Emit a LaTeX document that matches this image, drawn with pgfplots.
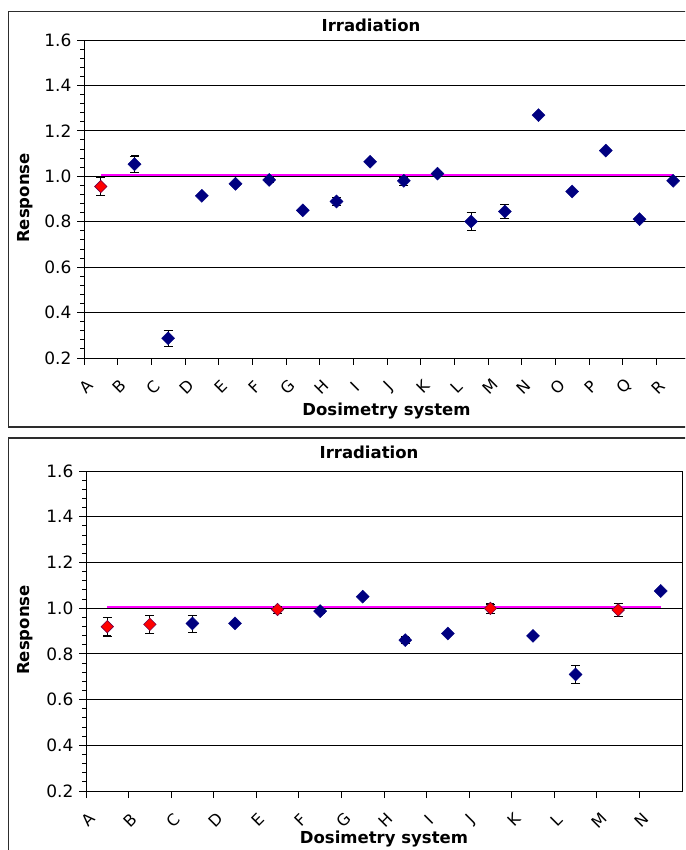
\documentclass[border=0pt]{standalone}
\usepackage{pgfplots}
\pgfplotsset{compat=1.18}
\usepackage{fontspec}
\setmainfont{DejaVu Sans}
\definecolor{navyd}{RGB}{0,0,128}
\definecolor{magl}{RGB}{255,0,255}
\definecolor{bord}{RGB}{45,45,45}
\pgfplotsset{
  resp/.style={
    scale only axis,
    anchor=south west,
    ymin=0.2, ymax=1.6,
    ytick={0.2,0.4,0.6,0.8,1.0,1.2,1.4,1.6},
    minor y tick num=4,
    ymajorgrids,
    tick pos=left,
    major grid style={black, line width=0.9pt},
    axis line style={black, line width=0.9pt},
    every tick/.style={black, line width=0.9pt},
    tick align=outside,
    major tick length=7pt,
    minor tick length=4pt,
    yticklabel style={font=\fontsize{17}{20}\selectfont, xshift=-2pt,
      /pgf/number format/.cd, fixed, fixed zerofill, precision=1, assume math mode=true},
    xticklabel style={font=\fontsize{16}{19}\selectfont, anchor=center, xshift=2pt, yshift=-22pt, rotate=45},
    clip=false,
  },
  errs/.style={
    error bars/.cd, y dir=both, y explicit,
    error bar style={black, line width=0.8pt, solid}},
  caps/.style={only marks, mark=-, mark size=4pt, black,
    mark options={black, line width=0.8pt, solid}, forget plot},
  bluem/.style={only marks, mark=square*, mark size=4.6pt,
    mark options={rotate=45, fill=navyd, draw=navyd, line width=0.4pt}, errs},
  redm/.style={only marks, mark=square*, mark size=4.4pt,
    mark options={rotate=45, fill=red, draw=navyd!55!red, line width=0.6pt}, errs},
}
\begin{document}
\begin{tikzpicture}[x=1pt,y=1pt]
\useasboundingbox (0,0) rectangle (685,850);
\clip (0,0) rectangle (685,850);
% panel borders
\draw[bord, line width=1.2pt] (8.3,423) rectangle (720,838.3);
\draw[bord, line width=1.2pt] (8.3,-20) rectangle (720,412);

% ---------- top panel ----------
\begin{axis}[resp, at={(84pt,492pt)}, width=606pt, height=318pt,
  xmin=-0.5, xmax=17.5,
  xtick={-0.5,0.5,1.5,2.5,3.5,4.5,5.5,6.5,7.5,8.5,9.5,10.5,11.5,12.5,13.5,14.5,15.5,16.5},
  xticklabels={A,B,C,D,E,F,G,H,I,J,K,L,M,N,O,P,Q,R}]
\addplot[magl, line width=1.6pt, forget plot] coordinates {(0,1.006) (17,1.006)};
% error-bar caps (value +- error)
\addplot[caps] coordinates {
 (0,0.995) (0,0.915) (1,1.090) (1,1.016) (2,0.322) (2,0.252)
 (5,0.996) (5,0.972) (7,0.907) (7,0.871) (9,0.998) (9,0.962)
 (10,1.022) (10,1.002) (11,0.841) (11,0.761) (12,0.875) (12,0.815)
};
\addplot[bluem] coordinates {
 (1,1.053) +- (0,0.037)
 (2,0.287) +- (0,0.035)
 (3,0.914) +- (0,0.0)
 (4,0.967) +- (0,0.0)
 (5,0.984) +- (0,0.012)
 (6,0.850) +- (0,0.0)
 (7,0.889) +- (0,0.018)
 (8,1.064) +- (0,0.0)
 (9,0.980) +- (0,0.018)
 (10,1.012) +- (0,0.010)
 (11,0.801) +- (0,0.040)
 (12,0.845) +- (0,0.030)
 (13,1.269) +- (0,0.0)
 (14,0.933) +- (0,0.0)
 (15,1.113) +- (0,0.0)
 (16,0.811) +- (0,0.0)
 (17,0.980) +- (0,0.0)
};
\addplot[redm] coordinates {(0,0.955) +- (0,0.040)};
\end{axis}

% ---------- bottom panel ----------
\begin{axis}[resp, at={(86pt,59pt)}, width=596pt, height=320pt,
  xmin=-0.5, xmax=13.5,
  xtick={-0.5,0.5,1.5,2.5,3.5,4.5,5.5,6.5,7.5,8.5,9.5,10.5,11.5,12.5},
  xticklabels={A,B,C,D,E,F,G,H,I,J,K,L,M,N}]
\addplot[magl, line width=1.6pt, forget plot] coordinates {(0,1.006) (13,1.006)};
\addplot[caps] coordinates {
 (0,0.959) (0,0.879) (1,0.969) (1,0.889) (2,0.970) (2,0.896)
 (4,1.009) (4,0.979) (5,0.997) (5,0.977) (7,0.875) (7,0.845)
 (9,1.019) (9,0.979) (11,0.750) (11,0.670) (12,1.020) (12,0.964)
};
\addplot[bluem] coordinates {
 (2,0.933) +- (0,0.037)
 (3,0.933) +- (0,0.0)
 (5,0.987) +- (0,0.010)
 (6,1.050) +- (0,0.0)
 (7,0.860) +- (0,0.015)
 (8,0.889) +- (0,0.0)
 (10,0.879) +- (0,0.0)
 (11,0.710) +- (0,0.040)
 (13,1.075) +- (0,0.0)
};
\addplot[redm] coordinates {
 (0,0.919) +- (0,0.040)
 (1,0.929) +- (0,0.040)
 (4,0.994) +- (0,0.015)
 (9,0.999) +- (0,0.020)
 (12,0.992) +- (0,0.028)
};
\end{axis}

% ---------- texts ----------
\node[font=\fontsize{16.5}{19}\selectfont\bfseries] at (371,824.5) {Irradiation};
\node[font=\fontsize{16.5}{19}\selectfont\bfseries] at (369,397.5) {Irradiation};
\node[font=\fontsize{16.5}{19}\selectfont\bfseries] at (386.5,438.5) {Dosimetry system};
\node[font=\fontsize{16.5}{19}\selectfont\bfseries] at (384,10.5) {Dosimetry system};
\node[font=\fontsize{16.5}{19}\selectfont\bfseries, rotate=90] at (25,652) {Response};
\node[font=\fontsize{16.5}{19}\selectfont\bfseries, rotate=90] at (25,220) {Response};
\end{tikzpicture}
\end{document}
